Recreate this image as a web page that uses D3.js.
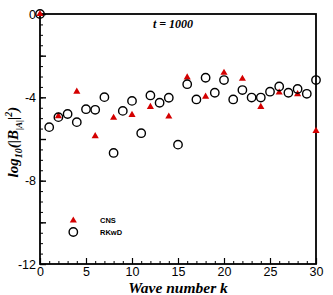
<!DOCTYPE html>
<html>
<head>
<meta charset="utf-8">
<script src="https://cdn.jsdelivr.net/npm/d3@7"></script>
<style>
  html, body { margin: 0; padding: 0; background: #fff; }
  svg { display: block; }
</style>
</head>
<body>
<svg id="chart" width="333" height="295"></svg>
<script>
// Data
const rkwdK = [0,1,2,3,4,5,6,7,8,9,10,11,12,13,14,15,16,17,18,19,20,21,22,23,24,25,26,27,28,29,30];
const rkwdVals = [0,-5.43,-4.95,-4.8,-5.19,-4.57,-4.6,-3.99,-6.67,-4.65,-4.17,-5.72,-3.91,-4.26,-4.02,-6.27,-3.37,-4.1,-3.06,-3.78,-3.17,-4.1,-3.65,-4.01,-4.01,-3.73,-3.48,-3.78,-3.6,-3.83,-3.17];
const cnsK = [0,2,4,6,8,10,12,14,16,18,20,22,24,26,28,30];
const cnsVals = [0,-4.9,-3.73,-5.86,-4.98,-4.84,-4.46,-4.92,-3.04,-3.97,-2.82,-3.11,-4.46,-3.77,-3.85,-5.61];
const xTickLabels = [0,5,10,15,20,25,30];
const yTickLabels = [0,-4,-8,-12];
const legendLabels = ["CNS", "RKwD"];
const titleText = "t = 1000";

const svg = d3.select("#chart");
const L = 40, R = 316, T = 14, B = 264;
const x = d3.scaleLinear().domain([0, 30]).range([L, R]);
const y = d3.scaleLinear().domain([-12, 0]).range([B, T]);
const red = "#d40000";

const g = svg.append("g");
// x minor: every 1
g.append("g").attr("transform", `translate(0,${B})`)
  .call(d3.axisTop(x).tickValues(d3.range(0, 31, 1)).tickSize(3).tickFormat(""))
  .call(a => a.select(".domain").remove())
  .call(a => a.selectAll("line").attr("stroke", "#000").attr("stroke-width", 1));
// x major: every 5
g.append("g").attr("transform", `translate(0,${B})`)
  .call(d3.axisTop(x).tickValues(xTickLabels).tickSize(6).tickFormat(""))
  .call(a => a.select(".domain").remove())
  .call(a => a.selectAll("line").attr("stroke", "#000").attr("stroke-width", 1.2));
// y minor every 0.5
g.append("g").attr("transform", `translate(${L},0)`)
  .call(d3.axisRight(y).tickValues(d3.range(-12, 0.01, 0.5)).tickSize(3).tickFormat(""))
  .call(a => a.select(".domain").remove())
  .call(a => a.selectAll("line").attr("stroke", "#000").attr("stroke-width", 1));
// y major every 2
g.append("g").attr("transform", `translate(${L},0)`)
  .call(d3.axisRight(y).tickValues(d3.range(-12, 0.01, 2)).tickSize(6).tickFormat(""))
  .call(a => a.select(".domain").remove())
  .call(a => a.selectAll("line").attr("stroke", "#000").attr("stroke-width", 1.4));

// Tick labels
g.append("g").attr("transform", `translate(0,${B})`)
  .call(d3.axisBottom(x).tickValues(xTickLabels).tickSize(0).tickPadding(3).tickFormat(d => d))
  .call(a => a.select(".domain").remove())
  .call(a => a.selectAll("text").attr("font-family", "Liberation Sans, Arial, sans-serif")
    .attr("font-size", 12.5).attr("fill", "#000"));
g.append("g").attr("transform", `translate(${L},0)`)
  .call(d3.axisLeft(y).tickValues(yTickLabels).tickSize(0).tickPadding(4).tickFormat(d => d))
  .call(a => a.select(".domain").remove())
  .call(a => a.selectAll("text").attr("font-family", "Liberation Sans, Arial, sans-serif")
    .attr("font-size", 12.5).attr("fill", "#000"));

// Frame
svg.append("rect").attr("x", L).attr("y", T).attr("width", R - L).attr("height", B - T)
  .attr("fill", "none").attr("stroke", "#000").attr("stroke-width", 1.8);

// CNS triangles
const tri = d3.symbol().type(d3.symbolTriangle).size(22);
svg.append("g").selectAll("path").data(cnsK).join("path")
  .attr("d", tri)
  .attr("transform", (k, i) => `translate(${x(k)},${y(cnsVals[i])})`)
  .attr("fill", red);

// RKwD circles
svg.append("g").selectAll("circle").data(rkwdK).join("circle")
  .attr("cx", k => x(k)).attr("cy", (k, i) => y(rkwdVals[i]))
  .attr("r", 4.2).attr("fill", "none").attr("stroke", "#000").attr("stroke-width", 1.4);

// Legend
const lg = svg.append("g");
lg.append("path").attr("d", tri).attr("transform", `translate(73.3,220.5)`).attr("fill", red);
lg.append("circle").attr("cx", 73.3).attr("cy", 232).attr("r", 4.2)
  .attr("fill", "none").attr("stroke", "#000").attr("stroke-width", 1.4);
lg.selectAll("text").data(legendLabels).join("text")
  .attr("x", 100).attr("y", (d, i) => 223 + i * 11.5)
  .attr("font-family", "Liberation Sans, Arial, sans-serif")
  .attr("font-weight", "bold").attr("font-size", 7.5).attr("fill", "#000")
  .text(d => d);

// Title
svg.append("text").attr("x", 173).attr("y", 28).attr("text-anchor", "middle")
  .attr("font-family", "Liberation Serif, Times New Roman, serif")
  .attr("font-style", "italic").attr("font-weight", "bold").attr("font-size", 12)
  .text(titleText);

// X label
svg.append("text").attr("x", 178).attr("y", 293).attr("text-anchor", "middle")
  .attr("font-family", "Liberation Serif, Times New Roman, serif")
  .attr("font-style", "italic").attr("font-weight", "bold").attr("font-size", 15.5)
  .text("Wave number k");

// Y label
const yl = svg.append("text")
  .attr("transform", "translate(18,142) rotate(-90)")
  .attr("text-anchor", "middle")
  .attr("font-family", "Liberation Serif, Times New Roman, serif")
  .attr("font-style", "italic").attr("font-weight", "bold").attr("font-size", 15);
yl.append("tspan").text("log");
yl.append("tspan").attr("font-size", 10).attr("dy", 4).text("10");
yl.append("tspan").attr("dy", -4).text("(|B");
yl.append("tspan").attr("font-size", 9).attr("dy", 4).text("|A|");
yl.append("tspan").attr("dy", -4).text("|");
yl.append("tspan").attr("font-size", 10).attr("dy", -6).text("2");
yl.append("tspan").attr("dy", 6).text(")");
</script>
</body>
</html>
